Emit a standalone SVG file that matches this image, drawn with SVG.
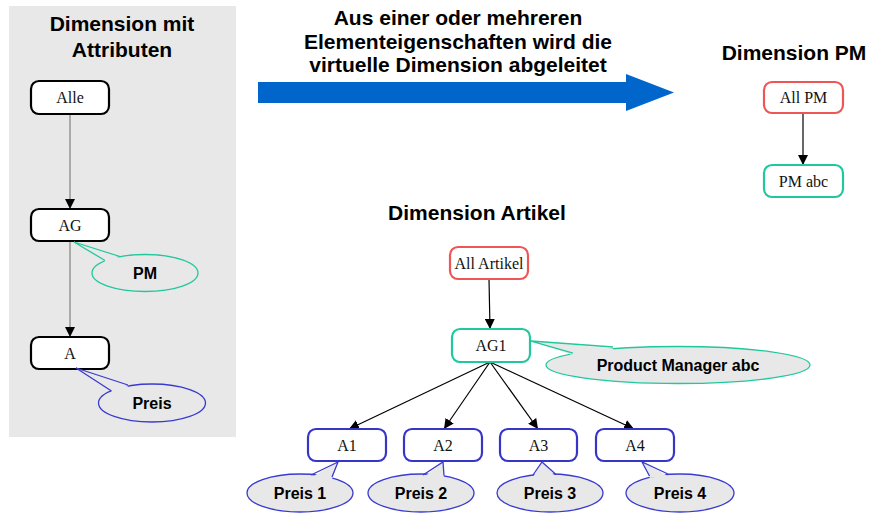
<svg xmlns="http://www.w3.org/2000/svg" width="873" height="513" viewBox="0 0 873 513">
  <style>
    .title { font-family: "Liberation Sans", Arial, sans-serif; font-weight: bold; font-size: 21px; fill: #000; text-anchor: middle; }
    .node rect { fill: #fff; stroke-width: 2.2; }
    .node text { font-family: "Liberation Serif", "Times New Roman", serif; font-size: 16px; fill: #111; text-anchor: middle; }
    .black rect { stroke: #000; }
    .red rect { stroke: #f05555; }
    .teal rect { stroke: #20c89c; }
    .blue rect { stroke: #3535c8; }
    .callout .bubble { fill: #e8e8e8; stroke-width: 1.3; }
    .callout .cover { fill: #e8e8e8; stroke: none; }
    .callout .edge { fill: none; stroke-width: 1.3; stroke-linejoin: miter; }
    .callout text { font-family: "Liberation Sans", Arial, sans-serif; font-weight: bold; font-size: 16px; fill: #000; text-anchor: middle; }
    .c-teal .bubble, .c-teal .edge { stroke: #20c89c; }
    .c-blue .bubble, .c-blue .edge { stroke: #3a3ad0; }
    .link { fill: none; stroke: #000; stroke-width: 1.2; marker-end: url(#arr); }
    .link.grey { stroke: #808080; }
  </style>
  <defs>
    <marker id="arr" viewBox="0 0 10 10" refX="10" refY="5" markerWidth="10" markerHeight="10" markerUnits="userSpaceOnUse" orient="auto">
      <path d="M0,0 L10,5 L0,10 z" fill="#000"/>
    </marker>
  </defs>

  <!-- attribute panel background -->
  <rect id="panel" x="9" y="6" width="227" height="431" fill="#e8e8e8"/>
  <text class="title" x="122" y="31">Dimension mit</text>
  <text class="title" x="122" y="57">Attributen</text>

  <!-- derivation arrow and caption -->
  <g id="derive">
    <polygon points="258,82 626,82 626,74 674,92.5 626,111 626,103 258,103" fill="#0066cc"/>
    <text class="title" x="458" y="25">Aus einer oder mehreren</text>
    <text class="title" x="458" y="49">Elementeigenschaften wird die</text>
    <text class="title" x="458" y="72">virtuelle Dimension abgeleitet</text>
  </g>

  <text class="title" x="794" y="60">Dimension PM</text>
  <text class="title" x="477" y="220">Dimension Artikel</text>

  <!-- connectors -->
  <g id="connectors">
    <line class="link grey" x1="70" y1="114" x2="70" y2="209"/>
    <line class="link grey" x1="70" y1="241" x2="70" y2="337"/>
    <line class="link" x1="803" y1="113" x2="803" y2="165"/>
    <line class="link" x1="489" y1="279" x2="490" y2="329"/>
    <line class="link" x1="490" y1="362" x2="349" y2="429"/>
    <line class="link" x1="490" y1="362" x2="444" y2="429"/>
    <line class="link" x1="490" y1="362" x2="538" y2="429"/>
    <line class="link" x1="490" y1="362" x2="634" y2="429"/>
  </g>

  <!-- panel nodes -->
  <g id="alle" class="node black"><rect x="31" y="81" width="78" height="33" rx="8"/><text x="70" y="103">Alle</text></g>
  <g id="ag" class="node black"><rect x="31" y="209" width="78" height="32" rx="8"/><text x="70" y="231">AG</text></g>
  <g id="a" class="node black"><rect x="31" y="337" width="78" height="32" rx="8"/><text x="70" y="359">A</text></g>

  <!-- Dimension PM nodes -->
  <g id="allpm" class="node red"><rect x="764" y="82" width="79" height="31" rx="8"/><text x="803.5" y="103">All PM</text></g>
  <g id="pmabc" class="node teal"><rect x="764" y="165" width="79" height="32" rx="8"/><text x="803.5" y="187">PM abc</text></g>

  <!-- Dimension Artikel nodes -->
  <g id="allartikel" class="node red"><rect x="450" y="247" width="78" height="32" rx="8"/><text x="489" y="269">All Artikel</text></g>
  <g id="ag1" class="node teal"><rect x="452" y="329" width="78" height="33" rx="8"/><text x="491" y="351">AG1</text></g>
  <g id="a1" class="node blue"><rect x="308" y="429" width="78" height="32" rx="8"/><text x="347" y="451">A1</text></g>
  <g id="a2" class="node blue"><rect x="404" y="429" width="78" height="32" rx="8"/><text x="443" y="451">A2</text></g>
  <g id="a3" class="node blue"><rect x="500" y="429" width="77" height="32" rx="8"/><text x="538.5" y="451">A3</text></g>
  <g id="a4" class="node blue"><rect x="596" y="429" width="78" height="32" rx="8"/><text x="635" y="451">A4</text></g>

  <!-- callouts -->
  <g id="call-pm" class="callout c-teal">
    <ellipse class="bubble" cx="145" cy="273" rx="53" ry="18.5"/>
    <polygon class="cover" points="106,262 74,242 120,258 122,263"/>
    <polyline class="edge" points="105,260.5 74,242 120,256.5"/>
    <text x="145" y="279">PM</text>
  </g>
  <g id="call-preis" class="callout c-blue">
    <ellipse class="bubble" cx="152" cy="403" rx="53.5" ry="19"/>
    <polygon class="cover" points="113,392.5 76,368 128,386.5 130,392"/>
    <polyline class="edge" points="111.5,391 76,368 128,385"/>
    <text x="152" y="409">Preis</text>
  </g>
  <g id="call-pmabc" class="callout c-teal">
    <ellipse class="bubble" cx="678" cy="365" rx="132" ry="18.5"/>
    <polygon class="cover" points="574,355.5 531,341 613,348.5 615,354"/>
    <polyline class="edge" points="573,353 531,341 613,347"/>
    <text x="678" y="371">Product Manager abc</text>
  </g>
  <g id="call-preis1" class="callout c-blue">
    <ellipse class="bubble" cx="300" cy="493" rx="53" ry="19"/>
    <polygon class="cover" points="312,477 338,462 332,479"/>
    <polyline class="edge" points="311,475 338,462 332,477"/>
    <text x="300" y="499">Preis 1</text>
  </g>
  <g id="call-preis2" class="callout c-blue">
    <ellipse class="bubble" cx="421" cy="493" rx="53" ry="19"/>
    <polygon class="cover" points="424,477 443,462 444,478"/>
    <polyline class="edge" points="423,475 443,462 444,475.5"/>
    <text x="421" y="499">Preis 2</text>
  </g>
  <g id="call-preis3" class="callout c-blue">
    <ellipse class="bubble" cx="550" cy="493" rx="53" ry="19"/>
    <polygon class="cover" points="533,477 542,462 556,477"/>
    <polyline class="edge" points="533,475 542,462 556,474.5"/>
    <text x="550" y="499">Preis 3</text>
  </g>
  <g id="call-preis4" class="callout c-blue">
    <ellipse class="bubble" cx="680" cy="493" rx="54" ry="19"/>
    <polygon class="cover" points="650,478 642,462 668,476"/>
    <polyline class="edge" points="649.5,476 642,462 668,474"/>
    <text x="680" y="499">Preis 4</text>
  </g>
</svg>
